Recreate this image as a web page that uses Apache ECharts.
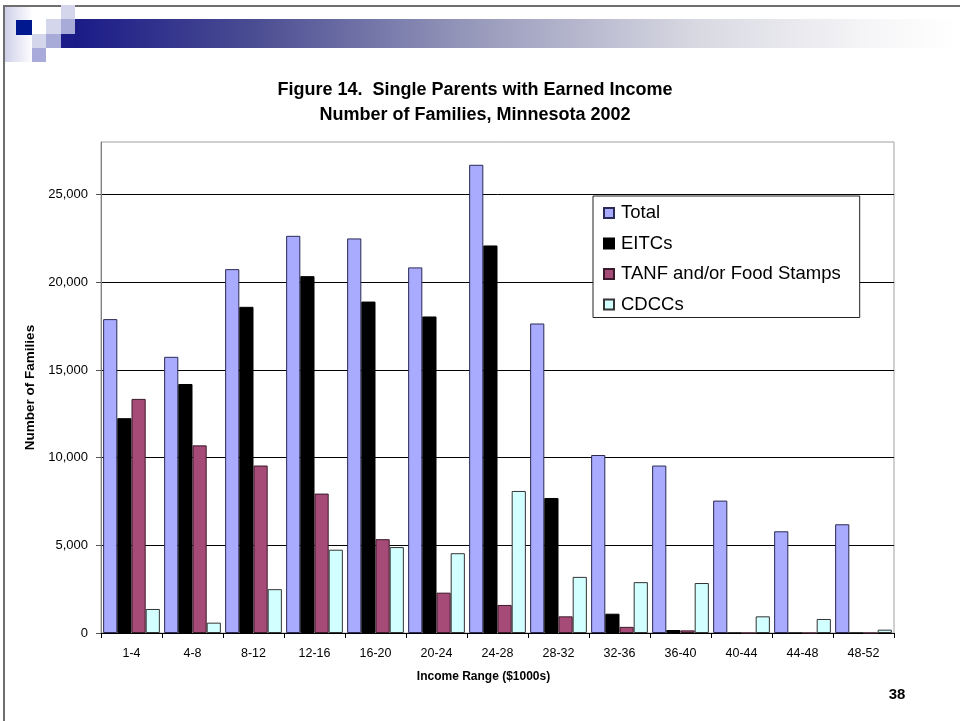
<!DOCTYPE html>
<html>
<head>
<meta charset="utf-8">
<script src="https://cdn.jsdelivr.net/npm/echarts@6/dist/echarts.min.js"></script>
<style>
html,body{margin:0;padding:0;background:#fff;}
#chart{width:960px;height:721px;}
</style>
</head>
<body>
<div id="chart"></div>
<script>
const categories = ['1-4','4-8','8-12','12-16','16-20','20-24','24-28','28-32','32-36','36-40','40-44','44-48','48-52'];
const totalValues = [17900,15750,20750,22650,22500,20850,26700,17650,10150,9550,7550,5800,6200];
const eitcValues  = [12250,14200,18600,20350,18900,18050,22100,7700,1100,170,0,0,0];
const tanfValues  = [13350,10700,9550,7950,5350,2300,1600,950,350,150,0,0,0];
const cdccValues  = [1370,590,2500,4750,4900,4550,8100,3200,2900,2850,950,800,190];
const seriesNames = ['Total','EITCs','TANF and/or Food Stamps','CDCCs'];
const yTicks = [0,5000,10000,15000,20000,25000];

const FONT = '"Liberation Sans", Arial, sans-serif';
const chart = echarts.init(document.getElementById('chart'));

const colors = ['#a9abff','#000000','#a64a78','#d2ffff'];
const borders = ['#2a2a55','#000000','#3a1a2a','#333333'];
const dataSets = [totalValues, eitcValues, tanfValues, cdccValues];

chart.setOption({
  animation: false,
  backgroundColor: '#ffffff',
  title: {
    text: 'Figure 14.  Single Parents with Earned Income\nNumber of Families, Minnesota 2002',
    left: 470, top: 73, textAlign: 'center',
    textStyle: {fontFamily: FONT, fontSize: 18, fontWeight: 'bold', color: '#000', lineHeight: 25}
  },
  legend: {
    orient: 'vertical',
    left: 593, top: 196,
    padding: [7, 19, 3, 10],
    itemGap: 10.5,
    itemWidth: 10, itemHeight: 10,
    icon: 'rect',
    backgroundColor: '#ffffff',
    borderColor: '#222',
    borderWidth: 1,
    borderRadius: 0,
    data: seriesNames,
    textStyle: {fontFamily: FONT, fontSize: 18.5, color: '#000', lineHeight: 20, padding: [0,0,0,2]}
  },
  grid: {
    left: 101, right: 66, top: 142, bottom: 88,
    show: true, borderColor: '#a0a0a0', borderWidth: 1, backgroundColor: 'transparent'
  },
  xAxis: {
    type: 'category',
    data: categories,
    name: 'Income Range ($1000s)',
    nameLocation: 'middle',
    nameGap: 38,
    nameTextStyle: {fontFamily: FONT, fontSize: 12, fontWeight: 'bold', color: '#000', padding: [0, 28, 0, 0]},
    axisLine: {lineStyle: {color: '#000', width: 1}},
    axisTick: {show: true, interval: 0, length: 5, lineStyle: {color: '#000'}},
    axisLabel: {interval: 0, margin: 14, fontFamily: FONT, fontSize: 12.5, color: '#000'}
  },
  yAxis: {
    type: 'value',
    min: 0, max: 28000, interval: 5000,
    name: 'Number of Families',
    nameLocation: 'middle',
    nameGap: 56,
    nameTextStyle: {fontFamily: FONT, fontSize: 13.5, fontWeight: 'bold', color: '#000'},
    axisLine: {show: true, lineStyle: {color: '#808080', width: 1}},
    axisTick: {show: true, length: 5, lineStyle: {color: '#555'}},
    axisLabel: {
      margin: 13, fontFamily: FONT, fontSize: 13, color: '#000', showMaxLabel: false,
      formatter: v => yTicks.indexOf(v) >= 0 ? v.toLocaleString('en-US') : ''
    },
    splitLine: {show: true, showMinLine: false, showMaxLine: false, lineStyle: {color: '#000', width: 1}}
  },
  series: seriesNames.map((n, i) => ({
    name: n,
    type: 'bar',
    data: dataSets[i],
    barGap: '0%',
    barCategoryGap: '7%',
    itemStyle: {color: colors[i], borderColor: borders[i], borderWidth: 1}
  })),
  graphic: [
    {type: 'rect', shape: {x: 3, y: 5, width: 957, height: 2}, style: {fill: '#6e6e6e'}, z: 100},
    {type: 'rect', shape: {x: 3, y: 5, width: 2, height: 716}, style: {fill: '#6e6e6e'}, z: 100},
    {type: 'rect', shape: {x: 5, y: 7, width: 28, height: 55},
      style: {fill: new echarts.graphic.LinearGradient(0,0,1,0,[{offset:0,color:'#cfd0ea'},{offset:1,color:'#ffffff'}])}, z: 90},
    {type: 'rect', shape: {x: 75, y: 19, width: 885, height: 29},
      style: {fill: new echarts.graphic.LinearGradient(0,0,1,0,[
        {offset:0,color:'#1b1b88'},{offset:0.2,color:'#4a4c92'},{offset:0.45,color:'#9799bb'},
        {offset:0.7,color:'#d8d8e2'},{offset:0.9,color:'#f6f6f8'},{offset:1,color:'#ffffff'}])}, z: 90},
    {type: 'rect', shape: {x: 61, y: 34, width: 14, height: 14}, style: {fill: '#1c1c88'}, z: 91},
    {type: 'rect', shape: {x: 16, y: 20, width: 16, height: 15}, style: {fill: '#00188f'}, z: 91},
    {type: 'rect', shape: {x: 32, y: 34, width: 14, height: 14}, style: {fill: '#d4d6ec'}, z: 91},
    {type: 'rect', shape: {x: 32, y: 48, width: 14, height: 14}, style: {fill: '#a9abda'}, z: 91},
    {type: 'rect', shape: {x: 46, y: 19, width: 15, height: 15}, style: {fill: '#d4d6ec'}, z: 91},
    {type: 'rect', shape: {x: 46, y: 34, width: 15, height: 14}, style: {fill: '#a8aad8'}, z: 91},
    {type: 'rect', shape: {x: 61, y: 5, width: 14, height: 14}, style: {fill: '#d4d6ec'}, z: 101},
    {type: 'rect', shape: {x: 61, y: 19, width: 14, height: 15}, style: {fill: '#a8aad8'}, z: 91},
    {type: 'text', x: 897, y: 695, style: {text: '38', fontFamily: FONT, fontSize: 15, fontWeight: 'bold', fill: '#000', textAlign: 'center', textVerticalAlign: 'middle'}, z: 100}
  ]
});
</script>
</body>
</html>
